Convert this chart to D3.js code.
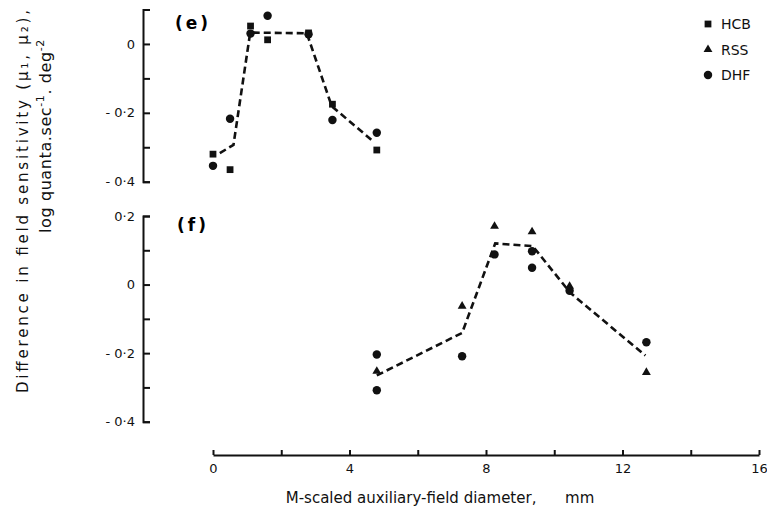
<!DOCTYPE html>
<html>
<head>
<meta charset="utf-8">
<style>
  body { margin: 0; background: #fff; }
  svg { font-family: "DejaVu Sans", sans-serif; }
  .axis path, .axis line { stroke: #111; stroke-width: 2px; fill: none; }
  .axis text { font-family: "DejaVu Sans", sans-serif; font-size: 13px; fill: #111; }
  .fit { fill: none; stroke: #111; stroke-width: 2.6px; stroke-dasharray: 7,4; }
</style>
</head>
<body>
<script src="https://cdn.jsdelivr.net/npm/d3@7"></script>
<script>
// panel (e): HCB and DHF
var hcbE = [[0, -0.32], [0.5, -0.365], [1.1, 0.052], [1.6, 0.012], [2.8, 0.032], [3.5, -0.175], [4.8, -0.308]];
var dhfE = [[0, -0.354], [0.5, -0.217], [1.1, 0.03], [1.6, 0.082], [2.8, 0.028], [3.5, -0.221], [4.8, -0.258]];
var fitE = [[0.2, -0.317], [0.6, -0.293], [1.09, 0.033], [2.75, 0.031], [3.48, -0.181], [4.65, -0.279]];

// panel (f): RSS and DHF
var rssF = [[4.8, -0.253], [7.3, -0.063], [8.25, 0.170], [9.35, 0.154], [10.45, -0.005], [12.7, -0.256]];
var dhfF = [[4.8, -0.204], [4.8, -0.308], [7.3, -0.209], [8.25, 0.088], [9.35, 0.097], [9.35, 0.049], [10.45, -0.018], [12.7, -0.168]];
var fitF = [[4.8, -0.265], [7.3, -0.141], [8.27, 0.12], [9.37, 0.112], [10.47, -0.024], [12.67, -0.207]];

var xTicks = [0, 2, 4, 6, 8, 10, 12, 14, 16];
var xLabels = [0, 4, 8, 12, 16];
var yTicksE = [-0.4, -0.3, -0.2, -0.1, 0];
var yTicksF = [-0.4, -0.3, -0.2, -0.1, 0, 0.1, 0.2];
var legendNames = ["HCB", "RSS", "DHF"];

var width = 767, height = 510;
var svg = d3.select("body").append("svg")
    .attr("width", width)
    .attr("height", height);

var x = d3.scaleLinear().domain([0, 16]).range([213, 759]);
var yE = d3.scaleLinear().domain([-0.4, 0.1]).range([181.7, 9.5]);
var yF = d3.scaleLinear().domain([-0.4, 0.2]).range([421.7, 216]);

function fmt(d) {
  var k = Math.round(d * 10);
  if (k % 2 !== 0) return "";
  if (k === 0) return "0";
  var s = "0·" + Math.abs(k);
  return k < 0 ? "- " + s : s;
}

function yAxis(scale, ticks) {
  var g = svg.append("g")
      .attr("class", "axis")
      .attr("transform", "translate(143,0)")
      .call(d3.axisLeft(scale).tickValues(ticks).tickFormat(fmt)
        .tickSizeInner(-7).tickSizeOuter(-7).tickPadding(8));
  return g;
}
yAxis(yE, yTicksE);
yAxis(yF, yTicksF);

svg.append("g")
    .attr("class", "axis")
    .attr("transform", "translate(0,455)")
    .call(d3.axisBottom(x).tickValues(xTicks)
      .tickFormat(function(d) { return xLabels.indexOf(d) >= 0 ? d : ""; })
      .tickSizeInner(-5).tickSizeOuter(0).tickPadding(9));

var symSquare = d3.symbol().type(d3.symbolSquare).size(46);
var symTri = d3.symbol().type(d3.symbolTriangle).size(34);
var symCircle = d3.symbol().type(d3.symbolCircle).size(56);

function points(data, yScale, sym) {
  svg.append("g").selectAll("path")
    .data(data)
    .enter().append("path")
      .attr("d", sym)
      .attr("transform", function(d) { return "translate(" + x(d[0]) + "," + yScale(d[1]) + ")"; })
      .attr("fill", "#111");
}

function fitLine(data, yScale) {
  svg.append("path")
      .datum(data)
      .attr("class", "fit")
      .attr("d", d3.line().x(function(d) { return x(d[0]); }).y(function(d) { return yScale(d[1]); }));
}

fitLine(fitE, yE);
fitLine(fitF, yF);
points(hcbE, yE, symSquare);
points(dhfE, yE, symCircle);
points(rssF, yF, symTri);
points(dhfF, yF, symCircle);

// panel letters
svg.append("text").attr("x", 175).attr("y", 29)
    .attr("font-size", 17).attr("font-weight", "bold").attr("letter-spacing", 3)
    .text("(e)");
svg.append("text").attr("x", 177).attr("y", 231)
    .attr("font-size", 17).attr("font-weight", "bold").attr("letter-spacing", 3)
    .text("(f)");

// legend
var syms = [symSquare, symTri, symCircle];
legendNames.forEach(function(name, i) {
  var yy = 24 + i * 25.5;
  svg.append("path").attr("d", syms[i]).attr("fill", "#111")
      .attr("transform", "translate(708," + yy + ")");
  svg.append("text").attr("x", 721).attr("y", yy + 5)
      .attr("font-size", 14).attr("fill", "#111")
      .text(name);
});

// axis titles
svg.append("text")
    .attr("x", 440).attr("y", 503)
    .attr("text-anchor", "middle")
    .attr("font-size", 15).attr("fill", "#111")
    .attr("xml:space", "preserve")
    .text("M-scaled auxiliary-field diameter,      mm");

svg.append("text")
    .attr("transform", "translate(28,393) rotate(-90)")
    .attr("font-size", 15).attr("fill", "#111")
    .attr("textLength", 383).attr("lengthAdjust", "spacing")
    .text("Difference in field sensitivity (μ₁, μ₂),");

var t2 = svg.append("text")
    .attr("transform", "translate(51,233) rotate(-90)")
    .attr("font-size", 16).attr("fill", "#111")
    .attr("letter-spacing", 0.6);
t2.append("tspan").text("log quanta.sec");
t2.append("tspan").attr("dy", -7).attr("font-size", 11).text("-1");
t2.append("tspan").attr("dy", 7).text(". deg");
t2.append("tspan").attr("dy", -7).attr("font-size", 11).text("-2");
</script>
</body>
</html>
